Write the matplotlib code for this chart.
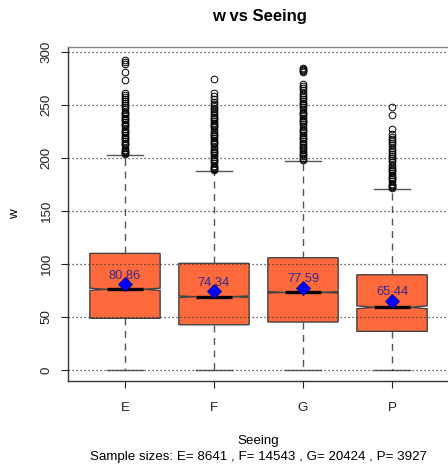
import matplotlib
matplotlib.use("Agg")
import numpy as np
import matplotlib.pyplot as plt

plt.rcParams['font.family'] = ['Liberation Sans', 'DejaVu Sans']

groups = ["E", "F", "G", "P"]
n_obs = [8641, 14543, 20424, 3927]
q1 = [48.8, 42.7, 45.3, 36.5]
medians = [76.2, 69.2, 73.3, 59.2]
q3 = [110.1, 100.7, 106.0, 89.9]
whis_lo = [0, 0, 0, 0]
whis_hi = [202.8, 187.7, 196.9, 170.8]
means = [80.86, 74.34, 77.59, 65.44]

# outliers (dense parts approximated)
out_E = [293, 291, 289, 281, 274, 262, 260, 258, 256, 254, 252, 250, 248,
         246, 244, 243, 242, 240, 238, 237, 236, 234, 232, 231, 230, 228,
         226, 225, 224, 222, 220, 219, 218, 216, 214, 213, 212, 210, 208,
         207, 206, 205, 204]
out_F = [275, 262, 259, 256, 253, 251, 249, 247, 246, 245, 243, 241, 239,
         238, 237, 235, 233, 231, 230, 229, 227, 225, 223, 222, 221, 219,
         217, 215, 214, 213, 211, 209, 207, 206, 205, 203, 201, 199, 198,
         197, 195, 193, 192, 191, 190, 189]
out_G = [285, 284, 283, 282, 281, 270, 268, 266, 264, 262, 260, 258, 256,
         254, 252, 251, 250, 248, 246, 244, 243, 242, 240, 238, 236, 235,
         234, 232, 230, 228, 227, 226, 224, 222, 220, 219, 218, 216, 214,
         212, 211, 210, 208, 206, 204, 203, 202, 200, 199, 198]
out_P = [248, 241, 228, 223, 220, 218, 216, 214, 212, 210, 208, 206, 204,
         202, 200, 198, 196, 194, 192, 190, 189, 188, 186, 184, 182, 181,
         180, 178, 176, 175, 174, 173, 172]
outliers = [out_E, out_F, out_G, out_P]

stats = []
for i, g in enumerate(groups):
    iqr = q3[i] - q1[i]
    notch = 1.58 * iqr / np.sqrt(n_obs[i])
    stats.append(dict(label=g, q1=q1[i], med=medians[i], q3=q3[i],
                      whislo=whis_lo[i], whishi=whis_hi[i],
                      cilo=medians[i] - notch, cihi=medians[i] + notch,
                      fliers=outliers[i]))

fig = plt.figure(figsize=(4.48, 4.65), dpi=100)
ax = fig.add_axes([68 / 448, 84 / 465, 381 / 448, 334 / 465])

ax.bxp(stats, positions=[1, 2, 3, 4], widths=0.79, shownotches=True,
       patch_artist=True, showmeans=False,
       boxprops=dict(facecolor="#FF6A3D", edgecolor="#444444", linewidth=1.0),
       medianprops=dict(color="black", linewidth=2.4),
       whiskerprops=dict(color="#555555", linewidth=1.0, linestyle=(0, (5, 4))),
       capprops=dict(color="#555555", linewidth=1.0),
       flierprops=dict(marker="o", markerfacecolor="none",
                       markeredgecolor="black", markersize=4.8,
                       markeredgewidth=0.7),
       capwidths=0.4)

for v in range(0, 301, 50):
    ax.axhline(v, color="#333333", linestyle=(0, (1, 2.2)), linewidth=0.9,
               zorder=4)

ax.plot([1, 2, 3, 4], means, linestyle="none", marker="D", markersize=7,
        markerfacecolor="#0000FF", markeredgecolor="#00008B",
        markeredgewidth=0.6, zorder=6)
for i, m in enumerate(means):
    ax.text(i + 1, m + 8, f"{m:.2f}", ha="center", va="center",
            color="#33288F", fontsize=9.3, zorder=7)

ax.set_xlim(0.36, 4.64)
ax.set_ylim(-10.4, 305)
ax.set_yticks(range(0, 301, 50))
ax.set_xticks([1, 2, 3, 4])
ax.set_xticklabels(groups)
ax.tick_params(axis="y", labelrotation=90, length=5, pad=6, labelsize=9.6,
               colors="#222222")
for lab in ax.get_yticklabels():
    lab.set_va("center")
ax.tick_params(axis="x", length=5, pad=10, labelsize=9.6, colors="#222222")

for s in ax.spines.values():
    s.set_color("#333333")
    s.set_linewidth(1.0)
ax.spines["top"].set_color("#888888")

ax.set_ylabel("w", fontsize=9.6, labelpad=14)
ax.set_xlabel("Seeing\nSample sizes: " + " , ".join(
    f"{g}= {n}" for g, n in zip(groups, n_obs)), fontsize=9.6, labelpad=15.5,
    linespacing=1.4)

fig.text(259 / 448, 1 - 16 / 465, "w vs Seeing", ha="center", va="center",
         fontsize=12, fontweight="bold")

fig.savefig("out.png", dpi=100)
